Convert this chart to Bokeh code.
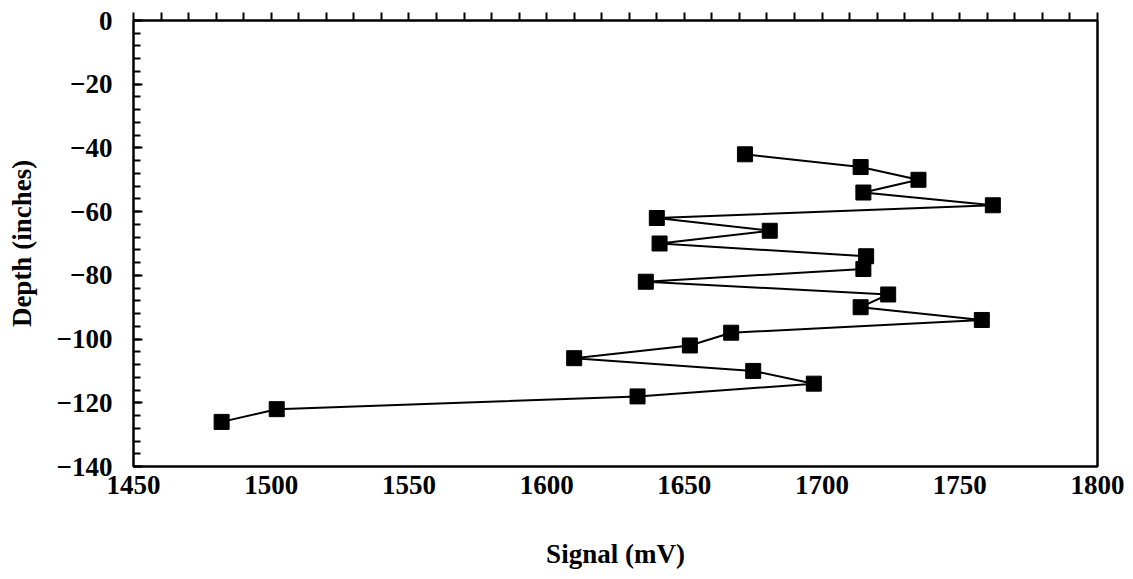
from bokeh.plotting import figure
from bokeh.models import Range1d, LinearAxis, SingleIntervalTicker, FixedTicker
from bokeh.embed import file_html
from bokeh.resources import INLINE

# Data
depth_in = [-42, -46, -50, -54, -58, -62, -66, -70, -74, -78, -82,
            -86, -90, -94, -98, -102, -106, -110, -114, -118, -122, -126]
signal_mv = [1672, 1714, 1735, 1715, 1762, 1640, 1681, 1641, 1716, 1715, 1636,
             1724, 1714, 1758, 1667, 1652, 1610, 1675, 1697, 1633, 1502, 1482]

x_limits = (1450, 1800)
y_limits = (-140, 0)
x_label = "Signal (mV)"
y_label = "Depth (inches)"

FONT = "Liberation Serif"

p = figure(width=1125, height=571, output_backend="svg", toolbar_location=None,
           x_range=Range1d(*x_limits), y_range=Range1d(*y_limits),
           min_border_left=133, min_border_right=28, min_border_top=20,
           min_border_bottom=105)

p.xgrid.visible = False
p.ygrid.visible = False
p.outline_line_color = "black"
p.outline_line_width = 2
p.background_fill_color = "white"
p.border_fill_color = "white"

# bottom axis: labels only
xa = p.xaxis[0]
xa.ticker = SingleIntervalTicker(interval=50, num_minor_ticks=5)
xa.major_tick_in = 0
xa.major_tick_out = 0
xa.minor_tick_in = 0
xa.minor_tick_out = 0
xa.axis_line_color = "black"
xa.axis_line_width = 2
xa.major_label_text_font = FONT
xa.major_label_text_font_style = "bold"
xa.major_label_text_font_size = "27px"
xa.major_label_text_color = "black"
xa.major_label_standoff = 9
xa.axis_label = x_label
xa.axis_label_text_font = FONT
xa.axis_label_text_font_style = "bold"
xa.axis_label_text_font_size = "27px"
xa.axis_label_text_color = "black"
xa.axis_label_standoff = 42

# left axis: inward ticks
ya = p.yaxis[0]
ya.ticker = SingleIntervalTicker(interval=20, num_minor_ticks=5)
ya.major_tick_in = 9
ya.major_tick_out = 0
ya.minor_tick_in = 7
ya.minor_tick_out = 0
ya.major_tick_line_width = 2
ya.minor_tick_line_width = 2
ya.axis_line_color = "black"
ya.axis_line_width = 2
ya.major_label_text_font = FONT
ya.major_label_text_font_style = "bold"
ya.major_label_text_font_size = "27px"
ya.major_label_text_color = "black"
ya.major_label_standoff = 21
ya.axis_label = y_label
ya.axis_label_text_font = FONT
ya.axis_label_text_font_style = "bold"
ya.axis_label_text_font_size = "27px"
ya.axis_label_text_color = "black"
ya.axis_label_standoff = 17

# top axis: outward ticks only (no labels), one every 10 mV
top_minor_ticks = list(range(x_limits[0], x_limits[1] + 1, 10))
top = LinearAxis(ticker=FixedTicker(ticks=[], minor_ticks=top_minor_ticks))
top.major_tick_in = 0
top.major_tick_out = 0
top.minor_tick_in = 0
top.minor_tick_out = 8
top.minor_tick_line_width = 2
top.axis_line_width = 2
top.major_label_standoff = 0
p.add_layout(top, "above")

# right axis: plain line
right = LinearAxis(ticker=FixedTicker(ticks=[], minor_ticks=[]))
right.major_tick_in = 0
right.major_tick_out = 0
right.minor_tick_in = 0
right.minor_tick_out = 0
right.axis_line_width = 2
right.major_label_standoff = 0
p.add_layout(right, "right")

p.line(signal_mv, depth_in, line_color="black", line_width=2)
p.scatter(signal_mv, depth_in, marker="square", size=15,
          fill_color="black", line_color="black")

open("out.html", "w").write(file_html(p, INLINE))
